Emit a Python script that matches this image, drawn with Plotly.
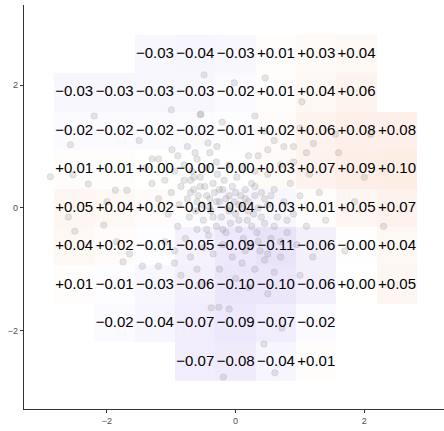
import plotly.graph_objects as go

# Grid cell centers (same in x and y)
x_centers = [-2.51, -1.88, -1.255, -0.627, 0.0, 0.627, 1.255, 1.88, 2.51]
y_centers = [2.51, 1.88, 1.255, 0.627, 0.0, -0.627, -1.255, -1.88, -2.51]

N = None
# rows from top to bottom
row1 = [N, N, -0.03, -0.04, -0.03, 0.01, 0.03, 0.04, N]
row2 = [-0.03, -0.03, -0.03, -0.03, -0.02, 0.01, 0.04, 0.06, N]
row3 = [-0.02, -0.02, -0.02, -0.02, -0.01, 0.02, 0.06, 0.08, 0.08]
row4 = [0.01, 0.01, 0.002, -0.002, -0.002, 0.03, 0.07, 0.09, 0.10]
row5 = [0.05, 0.04, 0.02, -0.01, -0.04, -0.03, 0.01, 0.05, 0.07]
row6 = [0.04, 0.02, -0.01, -0.05, -0.09, -0.11, -0.06, -0.002, 0.04]
row7 = [0.01, -0.01, -0.03, -0.06, -0.10, -0.10, -0.06, 0.002, 0.05]
row8 = [N, -0.02, -0.04, -0.07, -0.09, -0.07, -0.02, N, N]
row9 = [N, N, N, -0.07, -0.08, -0.04, 0.01, N, N]
grid = [row1, row2, row3, row4, row5, row6, row7, row8, row9]

# scatter points
pts_x = [
    -2.88, -2.57, -2.53, -2.29, -2.0, -2.6, -2.05, -2.5, -1.87, -1.69, -1.85, -1.65, -1.75, -1.45,
    -1.2, -0.95, -0.85, -0.55, -0.38, -0.26, -0.10, 0.44, 0.72, -0.19, 0.61, 0.2, 0.5, 1.0, 1.7,
    2.3, 2.0, 1.85, 1.6, 1.3, 1.4, 2.1, 1.0, 1.55, 1.21, 0.9, 0.46, 1.03, -0.02, -0.49, -0.55,
    -0.21, -0.54, -0.99, -0.75, -0.63, -0.43, -0.29, -1.3, -1.5, -2.2, -1.0, 0.3, 0.45, 0.6, 0.75,
    0.5, 0.35,
    -1.3, -1.2, -1.1, -1.05, -1.0, -0.95, -0.9, -0.88, -0.85, -0.8, -0.78, -0.75, -0.72, -0.7,
    -0.68, -0.65, -0.62, -0.6, -0.58, -0.55, -0.52, -0.5, -0.48, -0.45, -0.42, -0.4, -0.38, -0.35,
    -0.33, -0.3, -0.28, -0.25, -0.22, -0.2, -0.18, -0.15, -0.12, -0.1, -0.08, -0.05, -0.02, 0.0,
    0.02, 0.05, 0.08, 0.1, 0.12, 0.15, 0.18, 0.2, 0.22, 0.25, 0.28, 0.3, 0.33, 0.35, 0.38, 0.4,
    0.45, 0.5, 0.55, 0.6, 0.65, 0.7, 0.75, 0.8, 0.85, 0.9, 0.95, 1.0, 1.1, 1.15, 1.2,
    -1.1, -0.95, -0.7, -0.5, -0.35, -0.2, -0.05, 0.1, 0.3, 0.45, 0.6, -0.25, -0.6, 0.0,
    -1.4, -1.2, -0.9, -0.6, -0.3, -0.1, 0.1, 0.3, 0.5, 0.7, 0.9, 1.1, 0.2, -0.4,
    -0.7, -0.6, -0.55, -0.45, -0.4, -0.3, -0.25, -0.15, -0.1, 0.0, 0.05, 0.15, 0.2, 0.3, 0.4,
    0.45, 0.55, -0.8, -0.65, -0.35, -0.2, 0.05, 0.25, 0.35, 0.6, 0.7, 0.8, 0.5, 0.15, -0.45,
]
pts_y = [
    0.51, 1.03, 0.54, 0.39, 0.1, -0.15, -0.28, -0.38, 0.29, 0.29, -0.55, -0.75, -0.88, -0.95,
    -0.95, -0.9, -1.1, -1.25, -1.63, -1.62, -1.65, -2.22, -1.96, -2.76, -2.69, -1.3, -1.4, -1.1, -0.7,
    -0.3, 0.5, 0.1, 0.9, 0.25, -0.2, 1.2, 1.3, 1.2, 1.05, 1.0, 2.12, 1.73, 2.04, 2.17, 1.52,
    1.40, 1.53, 0.95, 1.0, 0.9, 1.06, 1.0, 0.8, 1.1, 1.5, 1.6, 1.5, 1.25, 1.1, 1.0,
    0.95, 0.85,
    0.4, 0.15, 0.45, -0.1, 0.25, 0.6, -0.3, 0.05, 0.35, 0.7, -0.5, 0.15, -0.15, 0.45,
    0.6, 0.3, -0.05, -0.35, 0.2, 0.5, 0.05, -0.2, 0.35, 0.65, -0.45, 0.15, -0.05, 0.4,
    0.25, -0.3, 0.55, 0.1, -0.15, 0.3, 0.45, -0.4, 0.0, 0.2, -0.25, 0.35, 0.1, -0.1,
    0.5, -0.35, 0.2, 0.0, -0.5, 0.3, -0.2, 0.1, -0.6, 0.4, -0.1, 0.2, -0.4, 0.0, -0.7, 0.25,
    -0.25, 0.05, -0.5, 0.3, -0.15, -0.8, 0.1, -0.4, 0.4, -0.1, -0.6, 0.2, -0.3, 0.55, -0.8,
    -0.55, -0.7, -0.8, -0.65, -0.75, -0.6, -0.8, -0.9, -1.0, -0.85, -1.05, -1.0, -1.0, -1.15,
    0.65, 0.8, 0.85, 0.8, 0.75, 0.7, 0.65, 0.6, 0.55, 0.7, 0.75, 0.9, 0.85, 0.9,
    0.25, 0.1, 0.35, 0.2, 0.0, 0.1, 0.3, 0.15, -0.05, 0.25, 0.05, 0.15, -0.05, 0.35, -0.15,
    0.15, 0.2, 0.45, 0.5, -0.15, -0.35, -0.2, -0.3, -0.55, -0.3, -0.55, -0.2, -0.75, -0.7, -0.35,
]


def fmt(v):
    return f"{v:+.2f}".replace("-", "\u2212")


fig = go.Figure()

fig.add_trace(go.Heatmap(
    x=x_centers, y=y_centers, z=grid,
    zmin=-0.11, zmax=0.11,
    colorscale=[[0, "rgb(233,227,250)"], [0.5, "rgb(255,255,255)"], [1, "rgb(252,235,226)"]],
    showscale=False, hoverinfo="skip",
))

fig.add_trace(go.Scatter(
    x=pts_x, y=pts_y, mode="markers",
    marker=dict(size=6.5, color="rgba(150,150,150,0.24)",
                line=dict(color="rgba(110,110,110,0.22)", width=0.6)),
    hoverinfo="skip", showlegend=False,
))

tx, ty, tt = [], [], []
for j, row in enumerate(grid):
    for i, v in enumerate(row):
        if v is not None:
            tx.append(x_centers[i])
            ty.append(y_centers[j])
            tt.append(fmt(v))

fig.add_trace(go.Scatter(
    x=tx, y=ty, text=tt, mode="text",
    textfont=dict(size=15, color="black", family="Liberation Sans, Arial, sans-serif"),
    hoverinfo="skip", showlegend=False,
))

axis_common = dict(
    showgrid=False, zeroline=False, showline=True, linecolor="#333333", linewidth=1.2,
    ticks="outside", ticklen=3, tickcolor="#333333", tickwidth=1,
    tickfont=dict(size=9, color="#4d4d4d", family="Liberation Sans, Arial, sans-serif"),
    tickvals=[-2, 0, 2], mirror=False, automargin=False,
)

fig.update_layout(
    width=444, height=431,
    margin=dict(l=24, r=0, t=5, b=22),
    paper_bgcolor="white", plot_bgcolor="white",
    showlegend=False,
    xaxis=dict(range=[-3.29, 3.24], **axis_common),
    yaxis=dict(range=[-3.28, 3.31], **axis_common),
)

fig.write_html(
    "out.html",
    config={"displayModeBar": False},
    post_script="document.body.style.margin='0';document.body.style.overflow='hidden';",
)
